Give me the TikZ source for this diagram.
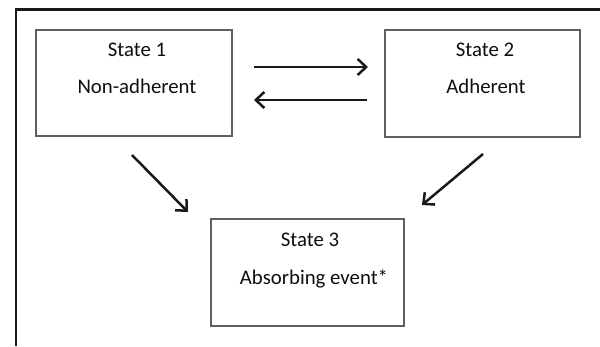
\documentclass[tikz,border=0pt]{standalone}
\usepackage{fontspec}
\setmainfont{Carlito}
\usetikzlibrary{arrows.meta}
\definecolor{boxgray}{RGB}{95,95,95}
\definecolor{framecol}{RGB}{25,25,25}
\definecolor{txt}{RGB}{15,15,15}
\begin{document}
\begin{tikzpicture}[x=1pt,y=-1pt,
  box/.style={draw=boxgray, line width=1.5pt, inner sep=0pt},
  lbl/.style={anchor=base, inner sep=0pt, font=\fontsize{20.8}{25}\selectfont, text=txt},
  arr/.style={line width=2.5pt, draw=framecol, -{Straight Barb[length=8.5pt,width=16pt,line width=2.5pt]}}]
\useasboundingbox (0,0) rectangle (600,346);
\fill[white] (0,0) rectangle (600,346);
\draw[line width=2.6pt, framecol] (15.8,346) -- (15.8,9.2) -- (600,9.2);
% boxes
\node[box, minimum width=196pt, minimum height=106pt] (b1) at (134,83) {};
\node[box, minimum width=195pt, minimum height=107pt] (b2) at (482.5,83.5) {};
\node[box, minimum width=193pt, minimum height=107pt] (b3) at (307.5,272.5) {};
% labels
\node[lbl] (t1a) at (137,56) {State 1};
\node[lbl] (t1b) at (137,93) {Non-adherent};
\node[lbl] (t2a) at (485,56) {State 2};
\node[lbl] (t2b) at (486,93) {Adherent};
\node[lbl] (t3a) at (310,246) {State 3};
\node[lbl] (t3b) at (314,284) {Absorbing event*};
% arrow end points
\coordinate (u1) at (254,67);
\coordinate (u2) at (368,67);
\coordinate (l1) at (367,100);
\coordinate (l2) at (254,100);
\coordinate (d1) at (132,155);
\coordinate (d2) at (188,212);
\coordinate (e1) at (483,154);
\coordinate (e2) at (422,205);
\draw[arr] (u1) -- (u2);
\draw[arr] (l1) -- (l2);
\draw[arr] (d1) -- (d2);
\draw[arr] (e1) -- (e2);
\end{tikzpicture}
\end{document}
